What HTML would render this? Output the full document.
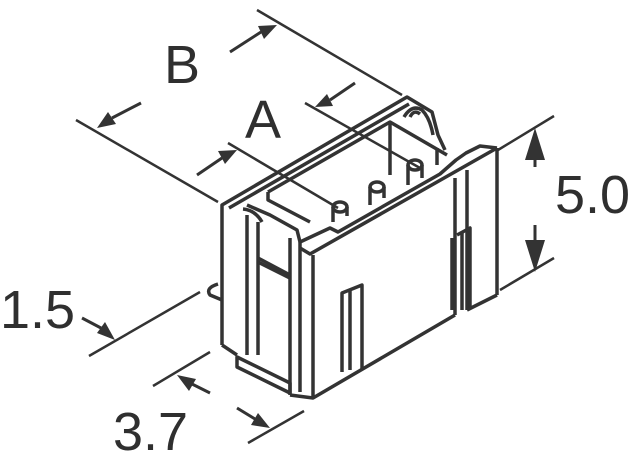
<!DOCTYPE html>
<html><head><style>
html,body{margin:0;padding:0;background:#fff;}
svg{display:block;}
text{font-family:"Liberation Sans",sans-serif;fill:#2f2f2f;}
</style></head><body>
<svg width="635" height="463" viewBox="0 0 635 463" xmlns="http://www.w3.org/2000/svg">
<g stroke="#333" stroke-width="2.5" fill="none">
<line x1="76" y1="120" x2="218" y2="202"/>
<line x1="257" y1="10" x2="402" y2="95"/>
<line x1="228" y1="143" x2="338" y2="208"/>
<line x1="305" y1="103" x2="420" y2="168"/>
<line x1="498" y1="150" x2="554" y2="116"/>
<line x1="500" y1="290" x2="554" y2="258"/>
<line x1="89" y1="356" x2="200" y2="292"/>
<line x1="153" y1="386" x2="210" y2="352"/>
<line x1="248" y1="443" x2="304" y2="411"/>
</g>
<g fill="#333">
<polygon points="97,128 108,112 116,124"/><line x1="112" y1="118" x2="141" y2="103" stroke="#333" stroke-width="3"/>
<polygon points="277,25 258,26 264,39"/><line x1="230" y1="52" x2="261" y2="32" stroke="#333" stroke-width="3"/>
<polygon points="237,150 218,151 225,164"/><line x1="197" y1="175" x2="222" y2="158" stroke="#333" stroke-width="3"/>
<polygon points="315,107 327,94 333,106"/><line x1="355" y1="83" x2="330" y2="100" stroke="#333" stroke-width="3"/>
<polygon points="535,128 525,160 545,160"/><line x1="535" y1="158" x2="535" y2="167" stroke="#333" stroke-width="3"/>
<polygon points="535,272 525,240 545,240"/><line x1="535" y1="225" x2="535" y2="242" stroke="#333" stroke-width="3"/>
<polygon points="115,340 97,333 105,322"/><line x1="82" y1="318" x2="101" y2="328" stroke="#333" stroke-width="3"/>
<polygon points="177,375 196,379 189,391"/><line x1="210" y1="393" x2="192" y2="384" stroke="#333" stroke-width="3"/>
<polygon points="270,428 251,425 258,413"/><line x1="237" y1="408" x2="255" y2="419" stroke="#333" stroke-width="3"/>
</g>
<text x="164" y="83" font-size="54">B</text>
<text x="245" y="138" font-size="54">A</text>
<text x="555" y="213" font-size="54">5.0</text>
<text x="0" y="328" font-size="54">1.5</text>
<text x="113" y="450" font-size="54">3.7</text>
<g stroke="#333" stroke-width="3.5" fill="none" stroke-linejoin="round">
<polyline points="222,345 222,205 407,97 432,112 438,135 445,150"/>
<polyline points="229,208 409,104"/>
<polyline points="268,192 390,122 447,155"/>
<polyline points="268,192 268,200 310,222"/>
<line x1="390" y1="122" x2="390" y2="175"/>
<line x1="437" y1="148" x2="437" y2="165"/>
<path d="M404,117 Q412,104 422,110 Q430,118 433,135"/>
<path d="M410,117 Q414,109 420,114"/>
<polyline points="300,248 310,254 497,148"/>
<polyline points="300,242 300,248"/>
<polyline points="300,242 330,228 338,232 440,174 456,160 466,153 480,146 497,148"/>
<line x1="247" y1="215" x2="247" y2="355"/>
<line x1="258" y1="222" x2="258" y2="355"/>
<path d="M243,209 Q255,210 262,222"/>
<polyline points="247,205 270,215 297,230 300,242"/>
<line x1="290" y1="238" x2="290" y2="395"/>
<polyline points="258,258 290,275"/>
<polyline points="258,262 290,278"/>
<polyline points="222,345 237,355"/>
<polygon points="237,357 290,383 290,393 237,367"/>
<line x1="300" y1="248" x2="300" y2="392"/>
<line x1="313" y1="255" x2="313" y2="398"/>
<polyline points="290,395 313,398 455,315"/>
<line x1="455" y1="178" x2="455" y2="315"/>
<line x1="467" y1="170" x2="467" y2="310"/>
<line x1="497" y1="148" x2="497" y2="295"/>
<polyline points="467,310 497,295"/>
<polyline points="342,372 342,293 362,285 362,370"/>
<line x1="350" y1="290" x2="350" y2="370"/>
<polyline points="452,238 452,310"/>
<polyline points="457,235 470,228 470,308"/>
<line x1="462" y1="232" x2="462" y2="310"/>
<path d="M333,207 L333,222 M347,207 L347,216"/>
<ellipse cx="340" cy="207" rx="7" ry="5"/>
<path d="M370,187 L370,205 M384,187 L384,198"/>
<ellipse cx="377" cy="187" rx="7" ry="5"/>
<path d="M408,165 L408,185 M422,165 L422,178"/>
<ellipse cx="415" cy="165" rx="7" ry="5"/>
<path d="M218,284 Q205,288 210,295 L222,300"/>
</g>
</svg>
</body></html>
